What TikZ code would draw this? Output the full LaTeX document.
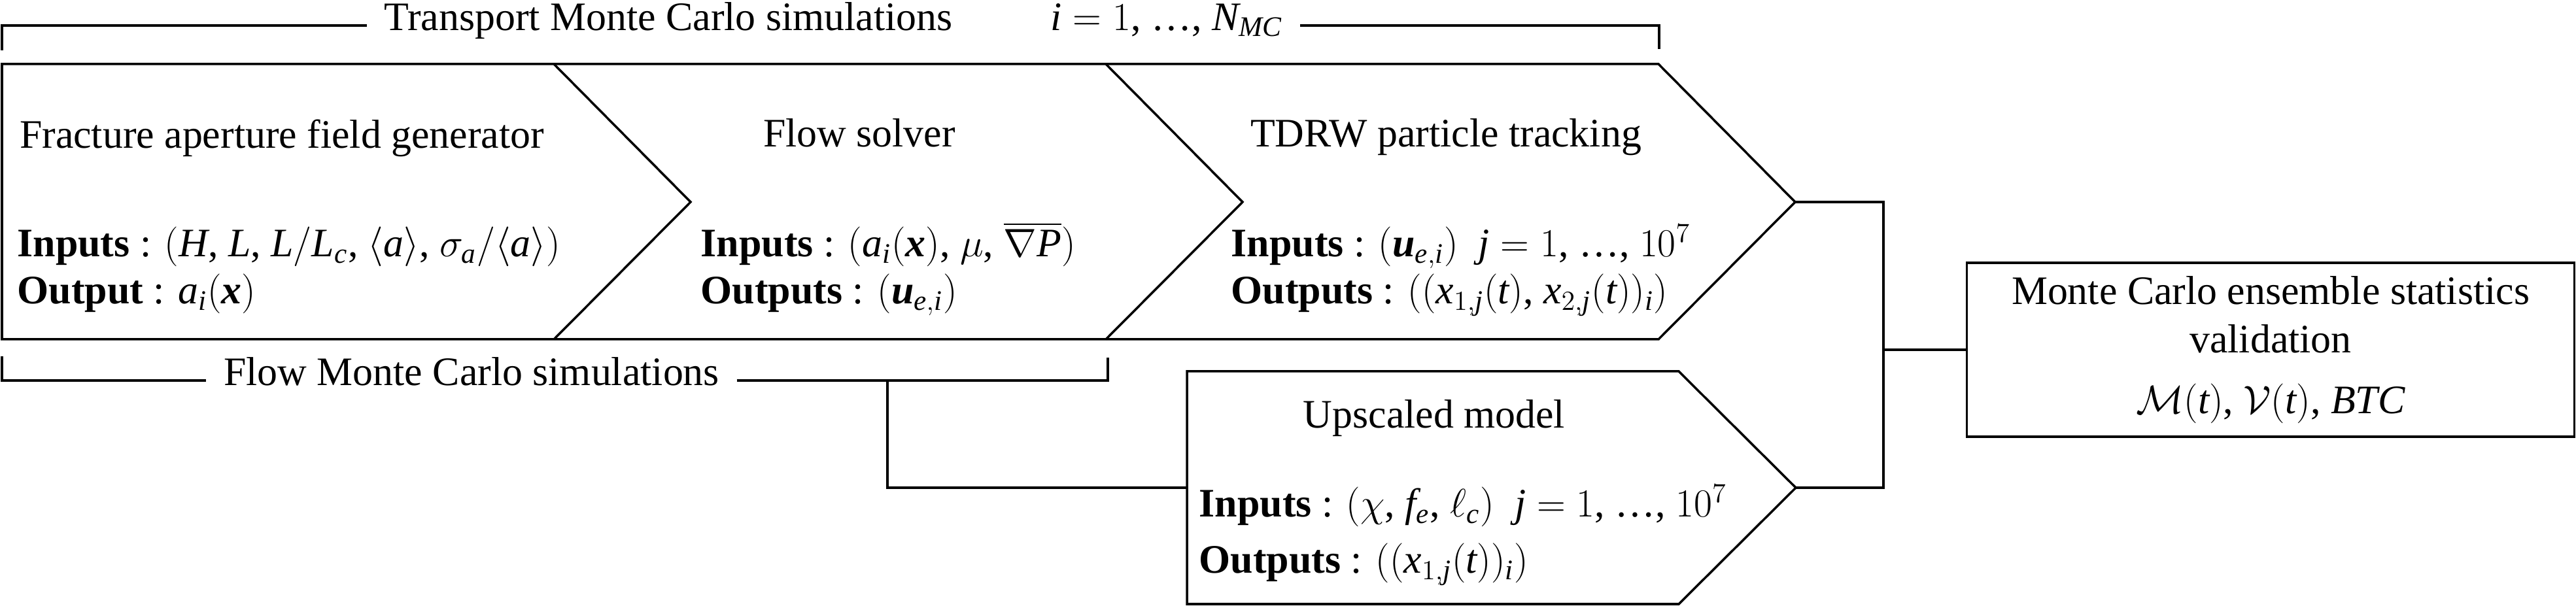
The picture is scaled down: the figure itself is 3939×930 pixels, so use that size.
\documentclass[tikz,border=0pt]{standalone}
\usepackage{amsmath}
\usepackage{fontspec}
\setmainfont{Liberation Serif}
% math letters in the italic of the text face
\DeclareSymbolFont{tletters}{TU}{\rmdefault}{m}{it}
\SetSymbolFont{tletters}{bold}{TU}{\rmdefault}{b}{it}
\newcommand*\tmathletter[1]{\DeclareMathSymbol{#1}{\mathalpha}{tletters}{`#1}}
\makeatletter
\@tfor\tml:=abcdefghijklmnopqrstuvwxyzABCDEFGHIJKLMNOPQRSTUVWXYZ\do{\expandafter\tmathletter\expandafter{\tml}}
\makeatother

\begin{document}
\begin{tikzpicture}[x=0.1mm, y=-0.1mm, line width=1pt,
		every node/.style = {font=\fontsize{17.6}{21}\selectfont},
		title/.style = {anchor=base},
		io/.style = {anchor=base west, inner sep=0pt},
		brk/.style = {inner xsep=2.5mm, text height=0.7em, text depth=0.25em},
		stats/.style = {draw, align=center, minimum width=92.9mm, minimum height=26.6mm, inner sep=0pt}]

		\useasboundingbox (0,0) rectangle (3939,930);

		% tips of the chevrons
		\coordinate (tdrwtip) at (2745,309);
		\coordinate (upstip) at (2746,746);
		\coordinate (join) at (2880,535);

		% transport chain
		\draw (3,98) -- (2536,98) -- (tdrwtip) -- (2536,519) -- (3,519) -- cycle;
		\foreach \x in {847,1691}
			\draw (\x,98) -- (\x+209,309) -- (\x,519);
		% upscaled model
		\draw (1815,568) -- (2567,568) -- (upstip) -- (2567,924) -- (1815,924) -- cycle;

		\node[title] (fagT) at (431,227) {Fracture aperture field generator};
		\node[io] (fagI) at (25,393) {\textbf{Inputs} : $(H$, $L$, $L/L_c$, $\langle a\rangle$, $\sigma_a/\langle a\rangle)$};
		\node[io] (fagO) at (25,465) {\textbf{Output} : $a_i(\boldsymbol{x})$};

		\node[title] (flowT) at (1314,225) {Flow solver};
		\node[io] (flowI) at (1070,393) {\textbf{Inputs} : $(a_i(\boldsymbol{x})$, $\mu$, $\overline{\nabla P})$};
		\node[io] (flowO) at (1070,465) {\textbf{Outputs} : $(\boldsymbol{u}_{e,i})$};

		\node[title] (tdrwT) at (2211,225) {TDRW particle tracking};
		\node[io] (tdrwI) at (1881,393) {\textbf{Inputs} : $(\boldsymbol{u}_{e,i})$\ \ $j = 1$, \dots, $10^7$};
		\node[io] (tdrwO) at (1881,465) {\textbf{Outputs} : $((x_{1,j}(t)$, $x_{2,j}(t))_i)$};

		\node[title] (upsT) at (2193,655) {Upscaled model};
		\node[io] (upsI) at (1832,791) {\textbf{Inputs} : $(\chi$, $f_e$, $\ell_c)$\ \ $j = 1$, \dots, $10^7$};
		\node[io] (upsO) at (1832,877) {\textbf{Outputs} : $((x_{1,j}(t))_i)$};

		\node[stats] (mcbox) at (3472,535) {Monte Carlo ensemble statistics\\ validation\\[5.5pt] $\mathcal{M}(t)$, $\mathcal{V}(t)$, $BTC$};

		% brackets
		\node[brk] (trmc) at (1022,39) {Transport Monte Carlo simulations};
		\node[brk] (imc) at (1784,39) {$i = 1$, \dots, $N_{MC}$};
		\node[brk] (fmc) at (721,582) {Flow Monte Carlo simulations};

		\draw (3,77) |- (trmc.west);
		\draw (imc.east) -| (2537,75);
		\draw (3,545) |- (fmc.west);
		\draw (fmc.east) -| (1694,547);
		\draw (1357,582) |- (1815,746);

		\draw (tdrwtip) -| (join) |- (upstip);
		\draw (join) -- (mcbox.west);
	\end{tikzpicture}
\end{document}
